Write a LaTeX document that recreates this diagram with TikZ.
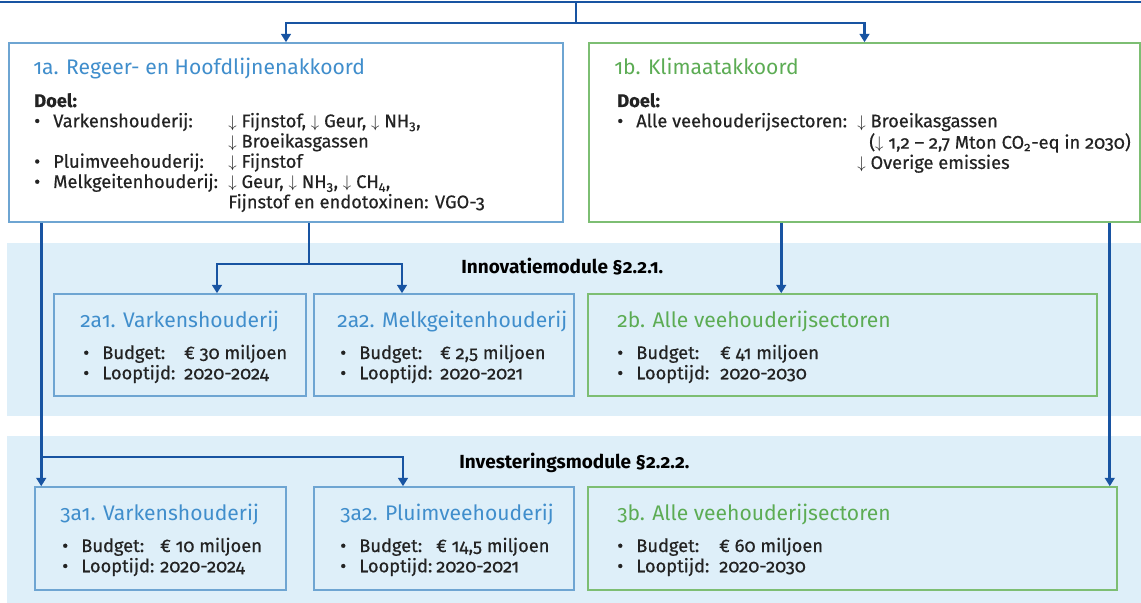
\documentclass[tikz,border=0pt]{standalone}
\usepackage{fontspec}
\setmainfont{Fira Sans}[Numbers=OldStyle]
\newfontfamily\bodyfont{Fira Sans}[Numbers=OldStyle,FakeBold=0.5]
\usetikzlibrary{calc,fit,arrows.meta}

\definecolor{darkline}{RGB}{24,84,162}
\definecolor{boxblue}{RGB}{110,165,210}
\definecolor{titleblue}{RGB}{64,142,204}
\definecolor{boxgreen}{RGB}{125,190,115}
\definecolor{titlegreen}{RGB}{92,172,84}
\definecolor{bandfill}{RGB}{222,239,249}
\definecolor{inktext}{RGB}{35,35,35}

\newlength{\pxu}
\setlength{\pxu}{0.025cm}
\newcommand{\dn}{$\downarrow$}
\newcommand{\itm}[3]{\makebox[#1\pxu][l]{\makebox[19\pxu][l]{\textbullet}#2}#3}
\newcommand{\cnt}[2]{\makebox[#1\pxu]{}#2}

\begin{document}
\begin{tikzpicture}[x=0.025cm,y=-0.025cm,
		conn/.style={draw=darkline,line width=1.9pt},
		arr/.style={conn,-{Triangle[length=6pt,width=7pt]}},
		panel/.style={draw=#1,line width=1.1pt,inner sep=0pt},
		titletext/.style={text=#1,font=\fontsize{15}{17}\selectfont,anchor=base west,inner sep=0pt},
		bodytext/.style={text=inktext,font=\bodyfont\fontsize{13}{14.2}\selectfont,anchor=base west,inner sep=0pt},
		bandtext/.style={text=black,font=\bfseries\fontsize{13.5}{15}\selectfont,anchor=base west,inner sep=0pt}]
		
		\useasboundingbox (0,0) rectangle (1141,603);
		
		\fill[bandfill] (7,243) rectangle (1141,416);
		\fill[bandfill] (7,436) rectangle (1141,603);
		
		\node (innov) at (461,273) [bandtext] {Innovatiemodule §2.2.1.};
		\node (inves) at (459,468) [bandtext] {Investeringsmodule §2.2.2.};
		
		\node (r1a) [panel=boxblue,fill=white,fit={(9,43) (563,222)}] {};
		\node (t1a) at (33,75) [titletext=titleblue] {1a. Regeer- en Hoofdlijnenakkoord};
		\node (d1a) at (34,107) [bodytext] {\begin{tabular}[t]{@{}l@{}}
				\textbf{Doel:}\\
				\itm{194}{Varkenshouderij:}{\dn\ Fijnstof, \dn\ Geur, \dn\ NH\textsubscript{3},}\\
				\cnt{194}{\dn\ Broeikasgassen}\\
				\itm{194}{Pluimveehouderij:}{\dn\ Fijnstof}\\
				\itm{194}{Melkgeitenhouderij:}{\dn\ Geur, \dn\ NH\textsubscript{3}, \dn\ CH\textsubscript{4},}\\
				\cnt{194}{Fijnstof en endotoxinen: VGO-3}
			\end{tabular}};
		
		\node (r1b) [panel=boxgreen,fill=white,fit={(589,43) (1140,222)}] {};
		\node (t1b) at (614,75) [titletext=titlegreen] {1b. Klimaatakkoord};
		\node (d1b) at (617,107) [bodytext] {\begin{tabular}[t]{@{}l@{}}
				\textbf{Doel:}\\
				\itm{240}{Alle veehouderijsectoren:}{\dn\ Broeikasgassen}\\
				\cnt{252}{(\dn\ 1,2 – 2,7 Mton CO\textsubscript{2}-eq in 2030)}\\
				\cnt{240}{\dn\ Overige emissies}
			\end{tabular}};
		
		\foreach \n/\xa/\ya/\xb/\yb/\c/\tc/\tx/\bx/\lw/\t/\b/\l in {
			2a1/54/294/306/396/boxblue/titleblue/80/83/101/{2a1. Varkenshouderij}/{€ 30 miljoen}/2020-2024,
			2a2/314/294/574/396/boxblue/titleblue/337/340/100/{2a2. Melkgeitenhouderij}/{€ 2,5 miljoen}/2020-2021,
			2b/588/294/1097/396/boxgreen/titlegreen/617/617/103/{2b. Alle veehouderijsectoren}/{€ 41 miljoen}/2020-2030,
			3a1/35/487/286/590/boxblue/titleblue/60/62/98/{3a1. Varkenshouderij}/{€ 10 miljoen}/2020-2024,
			3a2/314/487/574/590/boxblue/titleblue/340/340/96/{3a2. Pluimveehouderij}/{€ 14,5 miljoen}/2020-2021,
			3b/588/487/1117/590/boxgreen/titlegreen/617/617/102/{3b. Alle veehouderijsectoren}/{€ 60 miljoen}/2020-2030} {
			\node (r\n) [panel=\c,fit={(\xa,\ya) (\xb,\yb)}] {};
			\node (t\n) at (\tx,\ya+33) [titletext=\tc] {\t};
			\node (i\n) at (\bx,\ya+65) [bodytext] {\begin{tabular}[t]{@{}l@{}}
					\itm{\lw}{Budget:}{\b}\\
					\itm{\lw}{Looptijd:}{\l}
				\end{tabular}};
		}
		
		\coordinate (tl) at (0,2);
		\coordinate (tr) at (1141,2);
		\coordinate (top) at (576,2);
		\coordinate (split) at (576,23);
		\draw[conn] (tl) -- (tr);
		\draw[conn] (top) -- (split);
		\draw[arr] (split) -| (r1a.north);
		\draw[arr] (split) -| (r1b.north);
		
		\coordinate (j2) at (309,264);
		\draw[conn] (r1a.south -| j2) -- (j2);
		\draw[arr] (j2) -| ($(r2a1.north)+(37,0)$);
		\draw[arr] (j2) -| ($(r2a2.north)+(-42,0)$);
		
		\coordinate (in3a1) at ($(r3a1.north west)+(7,0)$);
		\draw[arr] (r1a.south -| in3a1) -- (in3a1);
		\coordinate (j3) at (42,457);
		\draw[arr] (j3) -| ($(r3a2.north)+(-41,0)$);
		
		\coordinate (in2b) at ($(r2b.north west)+(194,0)$);
		\draw[arr] (r1b.south -| in2b) -- (in2b);
		\coordinate (in3b) at ($(r3b.north east)+(-8,0)$);
		\draw[arr] (r1b.south -| in3b) -- (in3b);
		
	\end{tikzpicture}
\end{document}
